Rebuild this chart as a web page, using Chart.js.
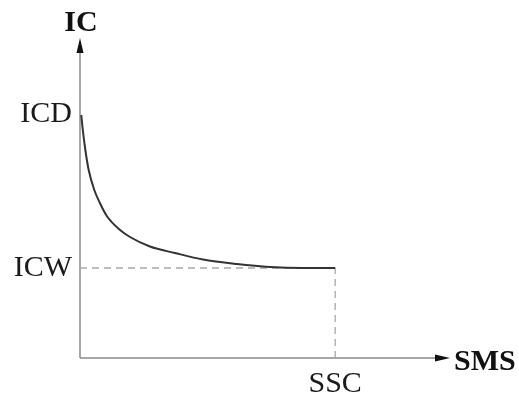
<!DOCTYPE html>
<html>
<head>
<meta charset="utf-8">
<script src="https://cdn.jsdelivr.net/npm/chart.js@4/dist/chart.umd.min.js"></script>
<style>
  html, body { margin: 0; padding: 0; background: #fff; }
  #wrap { width: 519px; height: 396px; }
</style>
</head>
<body>
<div id="wrap"><canvas id="chart"></canvas></div>
<script>
// Curve data (SMS vs IC)
const curveX = [0.5, 1.1, 2.1, 3.4, 5.6, 7.8, 10.5, 15.7, 19.6, 27.4, 37.2, 48.2, 61.5, 74.5, 87.4, 100];
const curveY = [243, 228, 208, 188, 168, 155, 142, 128, 121, 111.5, 105, 98.5, 94, 91, 90, 90];

// Tick positions and labels
const yTickValues = [90, 244];
const yTickLabels = ['ICW', 'ICD'];
const xTickValues = [100];
const xTickLabels = ['SSC'];

const xMax = 145;
const yMax = 320;

const serif = '"Liberation Serif", "DejaVu Serif", serif';

// Axis lines with arrows plus the axis names at the arrow ends
const axisArrows = {
  id: 'axisArrows',
  beforeDatasetsDraw(chart) {
    const { ctx, chartArea } = chart;
    const l = chartArea.left, b = chartArea.bottom;
    const t = chartArea.top, r = chartArea.right;
    ctx.save();
    ctx.strokeStyle = '#8a8a8a';
    ctx.lineWidth = 1.5;
    ctx.beginPath();
    ctx.moveTo(l, b);
    ctx.lineTo(l, t + 10);
    ctx.moveTo(l, b);
    ctx.lineTo(r - 10, b);
    ctx.stroke();
    ctx.restore();
  },
  afterDraw(chart) {
    const { ctx, chartArea } = chart;
    const l = chartArea.left, b = chartArea.bottom;
    const t = chartArea.top, r = chartArea.right;
    ctx.save();
    ctx.fillStyle = '#111';
    // y arrow head
    ctx.beginPath();
    ctx.moveTo(l, t);
    ctx.lineTo(l - 3.5, t + 15);
    ctx.lineTo(l + 3.5, t + 15);
    ctx.closePath();
    ctx.fill();
    // x arrow head
    ctx.beginPath();
    ctx.moveTo(r, b);
    ctx.lineTo(r - 15, b - 3.5);
    ctx.lineTo(r - 15, b + 3.5);
    ctx.closePath();
    ctx.fill();
    // axis names
    ctx.font = 'bold 30px ' + serif;
    ctx.textBaseline = 'alphabetic';
    ctx.textAlign = 'center';
    ctx.fillText('IC', l + 1, t - 7);
    ctx.textAlign = 'left';
    ctx.fillText('SMS', r + 4, b + 12);
    ctx.restore();
  }
};

new Chart(document.getElementById('chart'), {
  type: 'scatter',
  data: {
    datasets: [
      {
        data: curveX.map((x, i) => ({ x: x, y: curveY[i] })),
        showLine: true,
        borderColor: '#333',
        borderWidth: 2,
        pointRadius: 0,
        cubicInterpolationMode: 'monotone'
      },
      {
        // horizontal dashed guide at ICW
        data: [{ x: 0, y: yTickValues[0] }, { x: xTickValues[0], y: yTickValues[0] }],
        showLine: true,
        borderColor: '#a8a8a8',
        borderWidth: 1.3,
        borderDash: [7, 5],
        pointRadius: 0
      },
      {
        // vertical dashed guide at SSC
        data: [{ x: xTickValues[0], y: 0 }, { x: xTickValues[0], y: yTickValues[0] }],
        showLine: true,
        borderColor: '#a8a8a8',
        borderWidth: 1.3,
        borderDash: [7, 5],
        pointRadius: 0
      }
    ]
  },
  options: {
    responsive: true,
    maintainAspectRatio: false,
    animation: false,
    layout: { padding: { top: 38, right: 69, left: 0, bottom: 0 } },
    plugins: {
      legend: { display: false },
      tooltip: { enabled: false }
    },
    scales: {
      x: {
        type: 'linear',
        min: 0,
        max: xMax,
        grid: { display: false, drawTicks: false },
        border: { display: false },
        afterFit: s => { s.height = 38; },
        afterBuildTicks: s => { s.ticks = xTickValues.map(v => ({ value: v })); },
        ticks: {
          padding: 8,
          color: '#1a1a1a',
          font: { family: serif, size: 30 },
          callback: v => xTickLabels[xTickValues.indexOf(v)]
        }
      },
      y: {
        type: 'linear',
        min: 0,
        max: yMax,
        grid: { display: false, drawTicks: false },
        border: { display: false },
        afterFit: s => { s.width = 80; },
        afterBuildTicks: s => { s.ticks = yTickValues.map(v => ({ value: v })); },
        ticks: {
          padding: 8,
          color: '#1a1a1a',
          font: { family: serif, size: 30 },
          callback: v => yTickLabels[yTickValues.indexOf(v)]
        }
      }
    }
  },
  plugins: [axisArrows]
});
</script>
</body>
</html>
